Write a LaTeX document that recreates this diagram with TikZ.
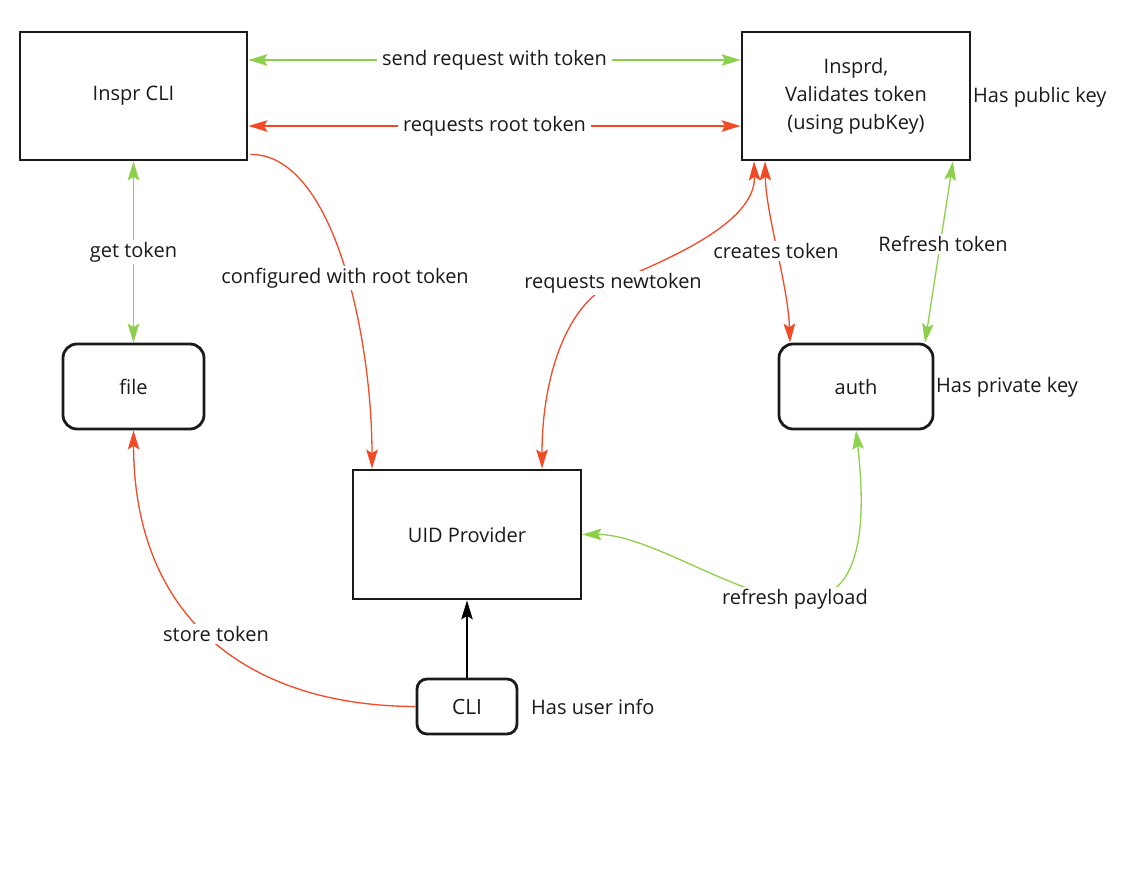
\documentclass[tikz,border=0pt]{standalone}
\usepackage{fontspec}
\setmainfont{Open Sans}
\usetikzlibrary{arrows.meta,calc}
\definecolor{gr}{HTML}{8CD04B}
\definecolor{rd}{HTML}{F24A26}
\definecolor{ink}{HTML}{1A1A1A}
\tikzset{
  box/.style={draw=ink, line width=2.8pt, text=ink, font=\fontsize{20}{28}\selectfont, align=center, inner sep=0pt, fill=white},
  rbox/.style={box, rounded corners=14pt},
  conn/.style={line width=1.3pt, >={Stealth[length=19pt,width=11.5pt,inset=3.5pt]}},
  grn/.style={conn, draw=gr},
  red/.style={conn, draw=rd},
  blk/.style={conn, draw=black},
  lbl/.style={fill=white, text=ink, font=\fontsize{20}{23}\selectfont, inner xsep=5pt, inner ysep=2pt},
  note/.style={text=ink, font=\fontsize{20}{23}\selectfont, anchor=west, inner sep=0pt},
}
\begin{document}
\begin{tikzpicture}[x=1pt, y=-1pt]
\useasboundingbox[fill=white] (0,0) rectangle (1141,875);

% nodes
\node[box, minimum width=227pt, minimum height=128pt] (inspr) at (133.5,96) {Inspr CLI};
\node[box, minimum width=228pt, minimum height=128pt] (insprd) at (856,96) {Insprd,\\Validates token\\(using pubKey)};
\node[rbox, minimum width=141pt, minimum height=85pt] (file) at (133.5,386.5) {file};
\node[rbox, minimum width=154pt, minimum height=85pt] (auth) at (856,386.5) {auth};
\node[box, minimum width=228pt, minimum height=129pt] (uid) at (467,534.5) {UID Provider};
\node[rbox, rounded corners=10pt, minimum width=100pt, minimum height=55pt, font=\fontsize{21}{24}\selectfont] (cli) at (467,706.5) {CLI};

\node[note] (pub) at (973,97) {Has public key};
\node[note] (priv) at (936,387) {Has private key};
\node[note] (user) at (531,707) {Has user info};

% connectors
\draw[grn, <->] ([yshift=36pt]inspr.east) -- node[lbl] {send request with token} ([yshift=36pt]insprd.west);
\draw[red, <->] ([yshift=-30pt]inspr.east) -- node[lbl] {requests root token} ([yshift=-30pt]insprd.west);
\draw[grn, <->] (inspr.south) -- node[lbl] {get token} (file.north);

\draw[red, ->] ([xshift=2pt,yshift=7pt]inspr.south east)
  .. controls (335,154) and (372,340) .. ([xshift=-95pt]uid.north);
\node[lbl] (lconf) at (345,278) {configured with root token};

\coordinate (mid1) at (613,283);
\draw[red, <->] ([xshift=75pt]uid.north)
  .. controls (542,380) and (565,305) .. (mid1)
  .. controls (660,262) and (756,225) .. ([xshift=-102pt]insprd.south);
\node[lbl] (lnew) at (mid1) {requests newtoken};

\draw[red, <->] ([xshift=-91pt]insprd.south)
  .. controls (766,215) and (788,285) .. ([xshift=-66pt]auth.north);
\node[lbl] (lcre) at (776,251) {creates token};

\draw[grn, <->] ([xshift=97pt]insprd.south) -- ([xshift=69pt]auth.north);
\node[lbl] (lref) at (943,244) {Refresh token};

\draw[grn, <->] (uid.east)
  .. controls (690,534) and (890,730) .. (auth.south);
\node[lbl] (lpay) at (795,599) {refresh payload};

\draw[red, ->] (cli.west)
  .. controls (250,706) and (134,620) .. (file.south);
\node[lbl] (lsto) at (216,634) {store token};

\draw[blk, ->] (cli.north) -- (uid.south);
\end{tikzpicture}
\end{document}
